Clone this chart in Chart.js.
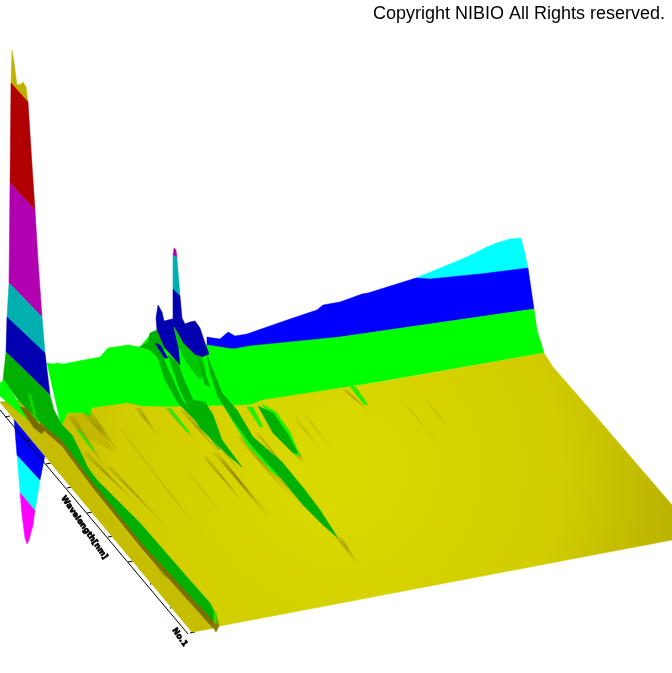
<!DOCTYPE html>
<html>
<head>
<meta charset="utf-8">
<title>NIBIO surface</title>
<script src="https://cdn.jsdelivr.net/npm/chart.js@4"></script>
<style>
  html, body { margin: 0; padding: 0; background: #fff; }
  canvas { display: block; }
</style>
</head>
<body>
<canvas id="surfaceChart" width="672" height="673"></canvas>
<script>
// outlines, [x, y] in picture units
const lowMagenta = [[20,492],[35,510],[33,525],[29,540],[27,544],[25,538],[22,515]];
const lowCyan = [[17,455],[40,480],[35,510],[20,492]];
const lowBlue = [[14,418],[50,440],[45,455],[40,480],[17,455]];

const peakOlive = [[12,50],[14,63],[17,85],[21,84],[23,82],[26,87],[28,102],[11,83]];
const peakRed = [[11,83],[28,102],[32,165],[35,210],[10,183]];
const peakPurple = [[10,183],[35,210],[38,260],[42,317],[9,283]];
const peakTeal = [[9,283],[42,317],[45,353],[7,317]];
const peakNavy = [[7,317],[45,353],[50,395],[6,352]];

const wallCyan = [[416,278],[467,257],[487,247],[497,243],[510,239],[521,238],[524,250],[528,268],[480,274],[430,279]];
const wallBlue = [[207,337],[213,338],[220,339],[228,332],[235,336],[247,334],[267,327],[293,318],[317,310],[323,305],[340,302],[362,294],[368,293],[416,278],[430,279],[480,274],[528,268],[534,309],[340,337],[250,349],[233,350],[207,350]];
const wallGreen = [[47,363],[53,364],[58,363],[63,364],[100,357],[108,348],[115,347],[128,345],[140,347],[150,335],[170,340],[207,345],[233,349],[250,346],[340,337],[534,309],[537,330],[544,353],[263,402],[200,420],[62,430]];

const spikeMagenta = [[174,248],[176,250],[177,258],[173,255]];
const spikeTeal = [[173,255],[177,258],[180,296],[173,289]];
const clusterGreen = [[140,347],[148,342],[150,333],[157,330],[165,348],[158,358],[150,350]];
const clusterNavy = [[158,305],[162,312],[164,321],[172,319],[173,289],[180,296],[182,318],[185,324],[190,322],[195,321],[200,328],[205,343],[209,354],[202,357],[195,355],[183,343],[174,327],[178,345],[180,365],[165,348],[157,330],[156,318]];
const clusterWedge = [[174,327],[183,343],[195,355],[202,357],[206,372],[200,380],[186,362],[178,345]];
const clusterSliver = [[155,343],[160,345],[168,358],[164,358]];

const floorSheet = [[62,425],[68,413],[82,413],[90,417],[92,408],[128,403],[140,406],[165,407],[210,406],[250,405],[263,400],[380,382],[544,353],[553,367],[593,413],[672,505],[672,540],[220,626],[192,632],[0,402],[20,400]];
const frontStrip = [[0,402],[20,411],[40,425],[62,447],[93,491],[143,553],[213,625],[215,628],[192,632]];
const frontFold = [[100,490],[104,493],[168,578],[163,575]];

const mainStripe = [[6,352],[50,395],[54,410],[62,425],[72,435],[82,455],[88,468],[97,480],[140,523],[187,577],[210,603],[217,617],[214,624],[143,547],[93,485],[62,443],[43,425],[20,402],[3,380]];
const stripeShadow = [[40,423],[62,441],[93,483],[143,545],[214,622],[213,628],[143,550],[93,488],[62,446],[40,427]];
const leftGlow = [[0,383],[4,380],[20,405],[28,420],[0,396]];
const leftLane = [[28,393],[31,395],[38,423],[35,420]];
const leftBlob = [[20,407],[26,408],[44,430],[42,434],[34,428]];
const endTab = [[213,615],[217,618],[219,626],[216,632],[213,627]];
const endTabTip = [[214,612],[216,612],[216,624],[214,622]];

const brightStreaks = [
  [[167,408],[172,410],[190,433],[187,432]],
  [[77,430],[80,431],[94,450],[92,450]],
  [[225,408],[230,408],[250,440],[280,477],[275,475],[247,445]],
  [[247,407],[253,407],[263,427],[260,427]],
  [[262,404],[276,412],[290,432],[300,456],[295,455]],
  [[350,387],[355,386],[368,405],[364,404]]
];
const darkStreaks = [
  [[155,345],[162,355],[170,373],[182,400],[190,410],[217,447],[220,450],[207,433],[188,413],[178,403],[165,380],[157,355]],
  [[168,355],[178,363],[183,377],[193,400],[205,402],[213,415],[222,440],[242,467],[228,455],[200,428],[188,407],[180,390],[172,367]],
  [[197,355],[203,367],[210,387],[205,385]],
  [[207,355],[217,380],[222,393],[237,410],[253,437],[282,462],[305,490],[320,510],[338,538],[323,525],[303,505],[280,477],[253,447],[233,420],[218,397],[210,373]],
  [[258,406],[273,413],[287,433],[298,453],[293,453],[273,433]]
];
const olivePatch = [[68,416],[82,414],[92,420],[115,452],[90,440],[72,422]];
// each one runs root to tip
const oliveStreaks = [
  [[165,408],[171,408],[195,441]],
  [[180,410],[186,412],[224,458]],
  [[197,420],[202,420],[245,478]],
  [[203,457],[207,457],[247,507]],
  [[220,460],[224,460],[270,520]],
  [[237,437],[243,437],[293,500]],
  [[247,443],[252,443],[303,507]],
  [[292,452],[300,453],[304,463]],
  [[343,390],[347,390],[370,412]],
  [[335,537],[342,538],[358,564]],
  [[82,413],[92,413],[120,453]],
  [[68,417],[74,417],[107,470]],
  [[83,453],[88,453],[140,507]],
  [[107,467],[111,467],[167,527]],
  [[213,453],[218,453],[273,520]],
  [[255,432],[260,435],[305,492]],
  [[135,408],[140,408],[158,436]]
];
const faintStreaks = [
  [[293,418],[298,418],[323,453]],
  [[303,415],[307,415],[333,450]],
  [[120,430],[123,430],[175,500]],
  [[150,470],[153,470],[210,545]],
  [[185,470],[188,470],[235,530]],
  [[400,400],[403,400],[440,445]],
  [[420,395],[423,395],[460,440]]
];

const axisLine = [[0,410],[188,634]];
const tickStartX = [5,26,46,67,87,108,128,150,170,190];
const tickStartY = [417,441,464,488,513,537,562,584,608,633];
const tickLength = 5;

const copyrightText = 'Copyright NIBIO All Rights reserved.';
const axisLabels = ['Wavelength[nm]', 'No.1'];
const axisLabelX = [61, 172];
const axisLabelY = [498, 630];

const canvas = document.getElementById('surfaceChart');
const ctx = canvas.getContext('2d');

// floor is brightest in the middle and falls off to the corners
const floorFill = ctx.createRadialGradient(340, 470, 30, 340, 470, 350);
floorFill.addColorStop(0, '#d9d900');
floorFill.addColorStop(0.6, '#d2cc00');
floorFill.addColorStop(1, '#b8b000');

function streakFill(points, strength) {
  const root = points[0];
  const tip = points[points.length - 1];
  const g = ctx.createLinearGradient(root[0], root[1], tip[0], tip[1]);
  g.addColorStop(0, `rgba(110,95,0,${0.3 * strength})`);
  g.addColorStop(0.4, `rgba(110,95,0,${strength})`);
  g.addColorStop(1, 'rgba(110,95,0,0)');
  return g;
}

function shape(points, color) {
  return {
    data: points.concat([points[0]]).map(p => ({ x: p[0], y: p[1] })),
    showLine: true,
    tension: 0,
    fill: 'shape',
    backgroundColor: color,
    borderColor: color,
    borderWidth: 0.5,
    pointRadius: 0
  };
}

function stroke(points) {
  return {
    data: points.map(p => ({ x: p[0], y: p[1] })),
    showLine: true,
    tension: 0,
    fill: false,
    borderColor: '#000000',
    borderWidth: 1,
    pointRadius: 0
  };
}

// painted back to front, reversed below since Chart.js draws dataset 0 last
const layers = [
  shape(lowMagenta, '#ff00ff'),
  shape(lowCyan, '#00ffff'),
  shape(lowBlue, '#0000ff'),
  stroke(axisLine)
];
tickStartX.forEach((x, i) => {
  layers.push(stroke([[x, tickStartY[i]], [x + tickLength, tickStartY[i] - 1]]));
});
layers.push(
  shape(wallCyan, '#00ffff'),
  shape(wallBlue, '#0000ff'),
  shape(wallGreen, '#00ff00'),
  shape(peakOlive, '#c0b000'),
  shape(peakRed, '#b00000'),
  shape(peakPurple, '#b000b0'),
  shape(peakTeal, '#00b0b0'),
  shape(peakNavy, '#0000b0'),
  shape(clusterGreen, '#00b000'),
  shape(spikeMagenta, '#b000b0'),
  shape(spikeTeal, '#00b0b0'),
  shape(clusterNavy, '#0000b0'),
  shape(clusterWedge, '#00c800'),
  shape(clusterSliver, '#0000b0'),
  shape(floorSheet, floorFill),
  shape(olivePatch, '#c4b800')
);
faintStreaks.forEach(s => layers.push(shape(s, streakFill(s, 0.15))));
oliveStreaks.forEach(s => layers.push(shape(s, streakFill(s, 0.4))));
brightStreaks.forEach(s => layers.push(shape(s, '#20f000')));
darkStreaks.forEach(s => layers.push(shape(s, '#00b000')));
layers.push(
  shape(frontStrip, '#c6bd00'),
  shape(frontFold, '#a89c00'),
  shape(mainStripe, '#00b000'),
  shape(stripeShadow, '#7a7000'),
  shape(leftGlow, '#00ff00'),
  shape(leftLane, '#10d800'),
  shape(leftBlob, '#7a6a00'),
  shape(endTab, '#8a7a00'),
  shape(endTabTip, '#30e000')
);

const textPlugin = {
  id: 'pictureText',
  afterDraw(chart) {
    const c = chart.ctx;
    const sx = chart.scales.x;
    const sy = chart.scales.y;
    c.save();
    c.fillStyle = '#000';
    c.textBaseline = 'alphabetic';
    c.textAlign = 'right';
    c.font = '18px "Liberation Sans"';
    c.fillText(copyrightText, sx.getPixelForValue(665), sy.getPixelForValue(19));
    c.textAlign = 'left';
    c.font = 'bold 8px "DejaVu Sans"';
    c.strokeStyle = '#000';
    c.lineWidth = 0.7;
    axisLabels.forEach((label, i) => {
      c.save();
      c.translate(sx.getPixelForValue(axisLabelX[i]), sy.getPixelForValue(axisLabelY[i]));
      c.rotate(55 * Math.PI / 180);
      c.fillText(label, 0, 0);
      c.strokeText(label, 0, 0);
      c.restore();
    });
    c.restore();
  }
};

new Chart(ctx, {
  type: 'scatter',
  data: { datasets: layers.reverse() },
  options: {
    responsive: false,
    animation: false,
    layout: { padding: 0 },
    plugins: {
      legend: { display: false },
      tooltip: { enabled: false }
    },
    scales: {
      x: { type: 'linear', min: 0, max: 672, display: false },
      y: { type: 'linear', min: 0, max: 673, reverse: true, display: false }
    }
  },
  plugins: [textPlugin]
});
</script>
</body>
</html>
